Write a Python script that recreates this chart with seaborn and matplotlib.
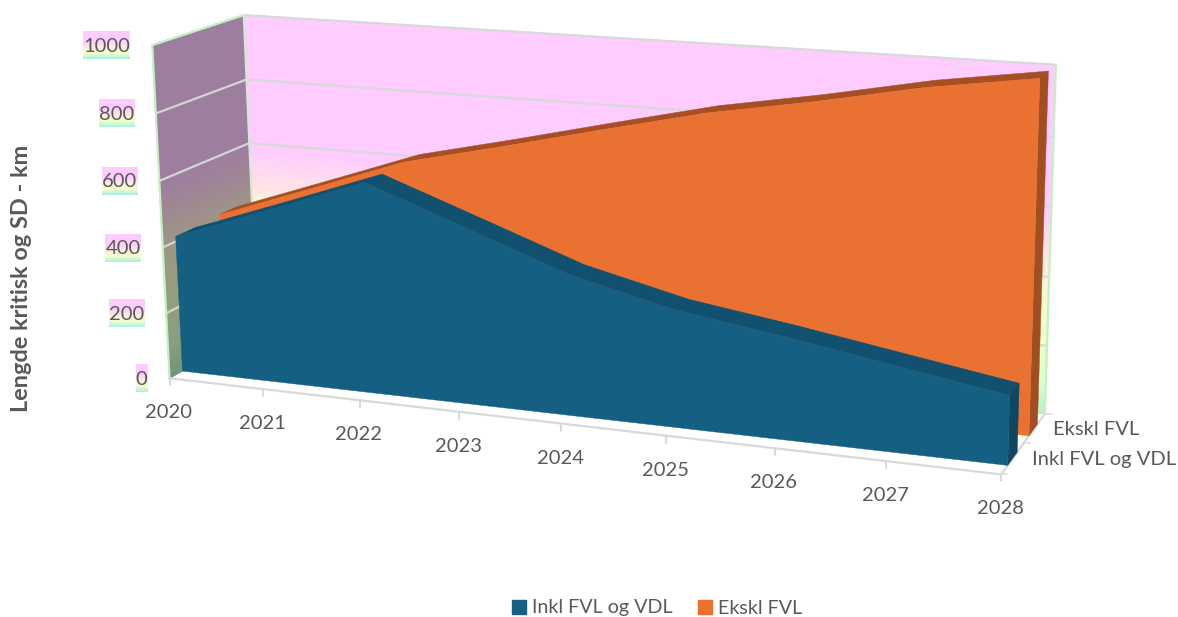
import numpy as np
import matplotlib
matplotlib.use("Agg")
import matplotlib.pyplot as plt
from matplotlib.colors import LinearSegmentedColormap
from matplotlib.patches import Patch
import seaborn as sns

# Chart values
years = [2020, 2021, 2022, 2023, 2024, 2025, 2026, 2027, 2028]
inkl_fvl_vdl = [415, 520, 627, 520, 412, 340, 295, 245, 195]
ekskl_fvl = [420, 525, 631, 700, 772, 842, 895, 955, 1000]
series_names = ["Inkl FVL og VDL", "Ekskl FVL"]
value_ticks = [0, 200, 400, 600, 800, 1000]
y_title = "Lengde kritisk og SD - km"

sns.set_theme(style="white")
plt.rcParams["font.family"] = ["Lato", "DejaVu Sans"]

W, H = 1178, 617
TEXT = "#595959"
GRID = "#D9D9D9"
EDGE_GREEN = "#C4F0C4"
BLUE, ORANGE = sns.color_palette(["#156082", "#E97132"])
BLUE_TOP, ORANGE_TOP = "#125070", "#A54F22"
BLUE_END, ORANGE_END = "#0F4761", "#A04E22"

# Oblique view of the chart box: (year fraction, value fraction, depth) -> canvas pixel
view_world = np.array([
    [0, 0, 0], [0, 1, 0], [0, 1, 1], [0, 0, 1],
    [1, 0, 0], [1, 0, 1], [1, 1, 1],
], float)
view_pixel = np.array([
    [169, 377], [153, 45], [243, 15], [258, 331],
    [1001, 476], [1045, 412], [1056, 65],
], float)


def solve_camera(world, pixel):
    rows = []
    for (a, b, c), (u, v) in zip(world, pixel):
        rows.append([a, b, c, 1, 0, 0, 0, 0, -u * a, -u * b, -u * c, -u])
        rows.append([0, 0, 0, 0, a, b, c, 1, -v * a, -v * b, -v * c, -v])
    return np.linalg.svd(np.array(rows))[2][-1].reshape(3, 4)


CAMERA = solve_camera(view_world, view_pixel)


def project(year, value, depth):
    year, value, depth = np.broadcast_arrays(
        np.asarray(year, float), np.asarray(value, float), np.asarray(depth, float))
    t = (year - years[0]) / (years[-1] - years[0])
    pts = np.stack([t, value / 1000.0, depth, np.ones_like(t)], axis=-1)
    out = pts @ CAMERA.T
    return out[..., 0] / out[..., 2], out[..., 1] / out[..., 2]


fig = plt.figure(figsize=(W / 100, H / 100), dpi=100)
ax = fig.add_axes([0, 0, 1, 1])
ax.set_xlim(0, W)
ax.set_ylim(H, 0)
ax.axis("off")

wall_stops = [(0.0, "#B8F0C8"), (0.1, "#DDFFCC"), (0.27, "#F4FFCC"), (0.42, "#FFEEDD"),
              (0.58, "#FFCCFF"), (1.0, "#FFCCFF")]
wall_cmap = LinearSegmentedColormap.from_list("wall", wall_stops)
side_cmap = LinearSegmentedColormap.from_list(
    "side", [(p, tuple(0.62 * np.array(matplotlib.colors.to_rgb(c)))) for p, c in wall_stops])

levels = np.linspace(0, 1000, 41)

# Back wall
gx, gy = project(*np.meshgrid(np.array([2020.0, 2028.0]), levels, indexing="ij"), 1.0)
ax.pcolormesh(gx, gy, np.tile(levels, (2, 1)), shading="gouraud", cmap=wall_cmap,
              vmin=0, vmax=1000, zorder=1)

# Left side wall
d_grid, v_grid = np.meshgrid(np.array([0.0, 1.0]), levels, indexing="ij")
sx, sy = project(2020.0, v_grid, d_grid)
ax.pcolormesh(sx, sy, v_grid, shading="gouraud", cmap=side_cmap, vmin=0, vmax=1000, zorder=1)

# Gridlines on the two walls
for tick in value_ticks[1:-1]:
    px, py = project([2020, 2020, 2028], tick, [0, 1, 1])
    sns.lineplot(x=px[:2], y=py[:2], ax=ax, color="#D5D5D5", lw=1.6, sort=False,
                 estimator=None, legend=False, zorder=2)
    sns.lineplot(x=px[1:], y=py[1:], ax=ax, color=GRID, lw=1.6, sort=False,
                 estimator=None, legend=False, zorder=2)


# Box outline
def edge(p, q, color, lw=1.6, z=2):
    x, y = project(*zip(p, q))
    ax.plot(x, y, color=color, lw=lw, zorder=z, solid_capstyle="round")


edge((2020, 1000, 1), (2028, 1000, 1), GRID)
edge((2020, 0, 0), (2020, 1000, 0), EDGE_GREEN)
edge((2020, 1000, 0), (2020, 1000, 1), EDGE_GREEN)
edge((2020, 0, 1), (2020, 1000, 1), "#D5E8D5")
edge((2028, 0, 1), (2028, 1000, 1), EDGE_GREEN)
edge((2020, 0, 0), (2028, 0, 0), GRID)
edge((2028, 0, 0), (2028, 0, 1), GRID)

# Tick marks along the year axis and the depth axis
for yr in years:
    tx, ty = project(yr, 0, 0)
    ax.plot([tx, tx], [ty, ty + 7], color=GRID, lw=1.4, zorder=2)
    ax.text(tx - 1, ty + 34.5, str(yr), ha="center", va="center", color=TEXT, fontsize=14.5, zorder=6)
for d in (0.0, 0.5, 1.0):
    tx, ty = project(2028, 0, d)
    ax.plot([tx, tx + 6], [ty, ty], color=GRID, lw=1.2, zorder=2)


# One ribbon of the 3D area chart
def ribbon(values, d_front, d_back, face, top, end):
    v = np.asarray(values, float)
    yr = np.asarray(years, float)
    fx, fy = project(yr, v, d_front)
    bx, by = project(yr, v, d_back)
    fbx, fby = project(yr, 0, d_front)
    ebx, eby = project(yr[-1], 0, d_back)
    ax.fill(np.r_[fx, bx[::-1]], np.r_[fy, by[::-1]], color=top, lw=0.3, zorder=3)
    ax.fill([fx[-1], bx[-1], ebx, fbx[-1]], [fy[-1], by[-1], eby, fby[-1]], color=end, lw=0.3, zorder=3)
    ax.fill(np.r_[fx, fbx[::-1]], np.r_[fy, fby[::-1]], color=face, lw=0.3, zorder=3)


ribbon(ekskl_fvl, 0.62, 0.82, ORANGE, ORANGE_TOP, ORANGE_END)
ribbon(inkl_fvl_vdl, 0.14, 0.35, BLUE, BLUE_TOP, BLUE_END)

# Value labels with their graded backing
label_cmap = LinearSegmentedColormap.from_list(
    "label", [(0, "#FFCCFF"), (0.38, "#FFCCFF"), (0.6, "#FFEEDD"), (0.82, "#EEFFCC"), (1, "#B0EEE0")])
renderer = fig.canvas.get_renderer()
for tick in value_ticks:
    tx, ty = project(2020, tick, 0)
    t = ax.text(tx - 22, ty + 1, str(tick), ha="right", va="center", color=TEXT, fontsize=14.5, zorder=6)
    box = t.get_window_extent(renderer)
    ax.imshow(np.linspace(0, 1, 28)[:, None], extent=[box.x0, box.x1, ty + 14, ty - 14],
              cmap=label_cmap, aspect="auto", zorder=5, interpolation="bilinear")
ax.set_xlim(0, W)
ax.set_ylim(H, 0)

# Series names beside the depth axis
for name, d in zip(series_names, (0.25, 0.75)):
    tx, ty = project(2028, 0, d)
    ax.text(tx + 19, ty + 1.5, name, ha="left", va="center", color=TEXT, fontsize=14.5, zorder=6)

ax.text(22, 278, y_title, rotation=90, ha="center", va="center", color=TEXT,
        fontsize=16.9, fontweight="bold")

legend = ax.legend(
    handles=[Patch(color=BLUE, label=series_names[0]), Patch(color=ORANGE, label=series_names[1])],
    loc="center", bbox_to_anchor=(657, 608), bbox_transform=ax.transData, ncol=2, frameon=False,
    prop={"size": 14.2}, handlelength=0.7, handleheight=0.7, handletextpad=0.3, columnspacing=1.3,
    labelcolor=TEXT, borderpad=0, borderaxespad=0)

fig.savefig("out.png", dpi=100, facecolor="white")
